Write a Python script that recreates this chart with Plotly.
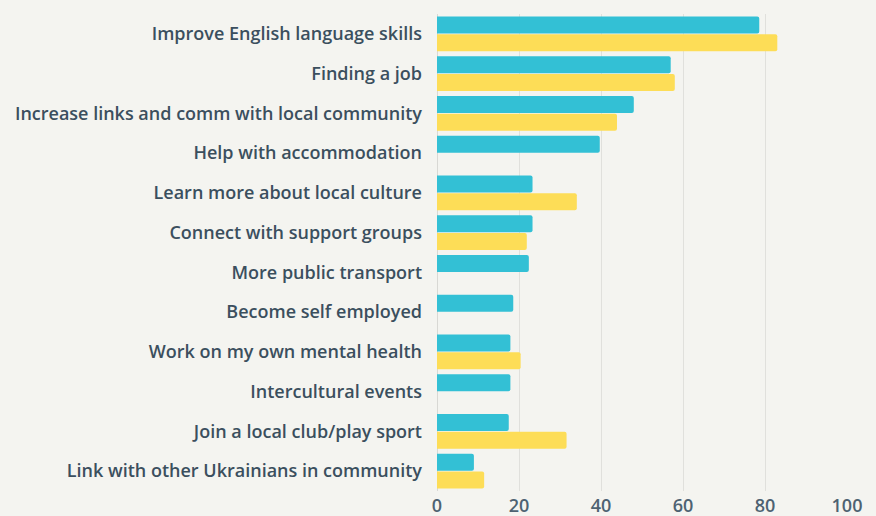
import plotly.graph_objects as go

categories = [
    "Improve English language skills",
    "Finding a job",
    "Increase links and comm with local community",
    "Help with accommodation",
    "Learn more about local culture",
    "Connect with support groups",
    "More public transport",
    "Become self employed",
    "Work on my own mental health",
    "Intercultural events",
    "Join a local club/play sport",
    "Link with other Ukrainians in community",
]
series_teal = [78.6, 57.0, 48.0, 39.7, 23.3, 23.3, 22.4, 18.6, 17.9, 17.9, 17.5, 9.0]
series_yellow = [83.0, 58.0, 43.9, None, 34.1, 21.9, None, None, 20.4, None, 31.6, 11.5]
x_ticks = [0, 20, 40, 60, 80, 100]

BG = "#f4f4f0"
TEXT = "#3b4f5e"
FONT = "Open Sans"

fig = go.Figure()
fig.add_trace(go.Bar(y=categories, x=series_teal, orientation="h",
                     marker=dict(color="#33c0d5", cornerradius=2, line=dict(width=0)),
                     name="A"))
fig.add_trace(go.Bar(y=categories, x=series_yellow, orientation="h",
                     marker=dict(color="#fddd57", cornerradius=2, line=dict(width=0)),
                     name="B"))

fig.update_layout(
    width=876, height=516,
    margin=dict(l=437, r=29, t=14, b=25),
    paper_bgcolor=BG, plot_bgcolor=BG,
    barmode="group", bargap=0.1, bargroupgap=0.05,
    showlegend=False,
    font=dict(family=FONT, size=18, color=TEXT, weight=600),
)
fig.update_xaxes(range=[0, 100], tickvals=x_ticks, showgrid=True, gridcolor="#e0e0dc",
                 gridwidth=1, zeroline=True, zerolinecolor="#d8d8d4", zerolinewidth=1,
                 showline=False, ticks="", ticklabelstandoff=2, automargin=False,
                 tickfont=dict(family=FONT, color="#4d6272", size=18, weight=600))
fig.update_yaxes(categoryorder="array", categoryarray=categories, autorange="reversed",
                 showgrid=False, ticks="", ticklabelstandoff=14, automargin=False,
                 tickfont=dict(family=FONT, color=TEXT, size=18, weight=600))

fig.write_html("out.html", config={"displayModeBar": False},
               post_script="document.body.style.margin='0';")
